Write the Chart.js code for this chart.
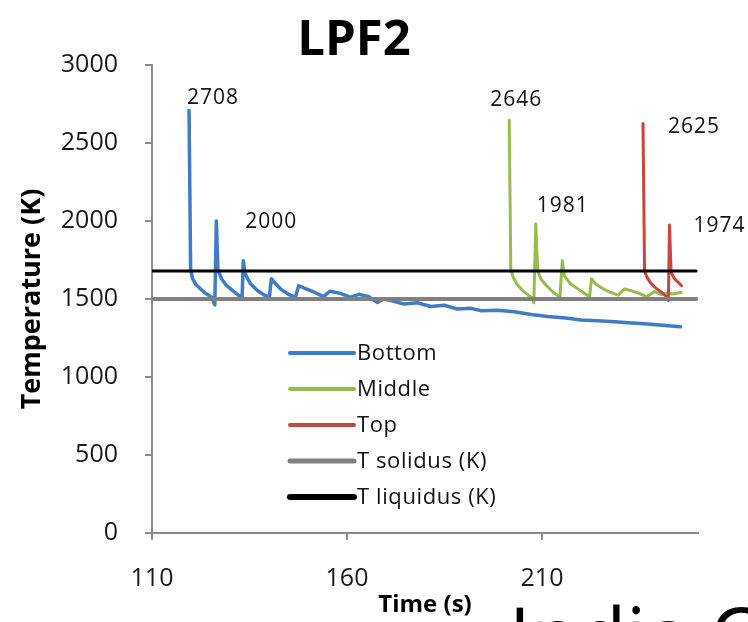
<!DOCTYPE html>
<html>
<head>
<meta charset="utf-8">
<script src="https://cdn.jsdelivr.net/npm/chart.js@4.4.1/dist/chart.umd.min.js"></script>
<style>
  html, body { margin: 0; padding: 0; background: #ffffff; }
  #wrap { width: 748px; height: 622px; }
</style>
</head>
<body>
<div id="wrap"><canvas id="c" width="748" height="622"></canvas></div>
<script>
// ---- chart text ----
const chartTitle = 'LPF2';
const xAxisTitle = 'Time (s)';
const yAxisTitle = 'Temperature (K)';
const footerText = 'India Co';

// ---- axis ticks ----
const xTicks = [110, 160, 210];
const yTicks = [0, 500, 1000, 1500, 2000, 2500, 3000];

// ---- Bottom thermocouple ----
const bottomTime = [119.5, 119.9, 120.4, 121.2, 122.4, 123.8, 125.3, 126.1, 126.5, 126.9,
  127.8, 129.0, 130.6, 132.3, 133.1, 133.4, 133.9, 135.2, 137.0, 138.8,
  140.1, 140.6, 141.6, 143.2, 145.0, 146.8, 147.6, 149.5, 151.5, 154.0,
  155.6, 158.3, 160.9, 163.0, 165.6, 167.8, 169.5, 172.0, 174.6, 178.0,
  181.5, 184.9, 188.3, 191.8, 194.5, 198.6, 202.9, 207.2, 211.5, 216.0,
  220.0, 224.0, 228.6, 233.0, 237.2, 241.5, 245.5];
const bottomTemp = [2708, 1690, 1630, 1595, 1565, 1535, 1512, 1462, 2000, 1690,
  1630, 1590, 1555, 1522, 1510, 1745, 1660, 1600, 1555, 1525,
  1510, 1630, 1600, 1560, 1530, 1512, 1585, 1565, 1545, 1515,
  1550, 1536, 1510, 1530, 1515, 1478, 1500, 1485, 1468, 1476,
  1452, 1460, 1436, 1440, 1425, 1428, 1418, 1400, 1388, 1378,
  1366, 1360, 1354, 1346, 1340, 1330, 1322];

// ---- Middle thermocouple ----
const middleTime = [201.6, 202.0, 202.6, 203.6, 205.0, 206.6, 207.6, 207.9, 208.4, 208.9,
  209.8, 211.0, 212.8, 214.6, 215.2, 215.7, 217.2, 219.2, 221.4, 222.2,
  222.7, 223.6, 225.2, 227.0, 229.5, 231.2, 233.0, 235.0, 236.8, 238.9,
  240.6, 242.3, 243.6, 245.7];
const middleTemp = [2646, 1690, 1640, 1595, 1555, 1522, 1505, 1475, 1981, 1680,
  1625, 1590, 1545, 1510, 1745, 1650, 1600, 1565, 1528, 1515,
  1630, 1600, 1572, 1548, 1525, 1565, 1552, 1535, 1515, 1548,
  1528, 1538, 1532, 1542];

// ---- Top thermocouple ----
const topTime = [235.9, 236.3, 236.9, 237.8, 239.2, 240.8, 241.9, 242.4, 242.7, 243.1,
  244.0, 245.0, 245.8];
const topTemp = [2625, 1680, 1640, 1605, 1570, 1540, 1515, 1490, 1974, 1670,
  1630, 1605, 1585];

// ---- solidus / liquidus reference lines ----
const refLineTime = [110, 249.5];
const solidusTemp = 1500;
const liquidusTemp = 1680;

// ---- annotated peak temperatures ----
const peakValues = [2708, 2000, 2646, 1981, 2625, 1974];

const FONT = '"Open Sans", "Liberation Sans", sans-serif';
const AXIS_GREY = '#8a8a8a';

const toPoints = (xs, ys) => xs.map((x, i) => ({ x: x, y: ys[i] }));
const flatLine = (xs, v) => xs.map(x => ({ x: x, y: v }));

// Title drawn over the plot, slightly left of the canvas centre
const titlePlugin = {
  id: 'plotTitle',
  afterDraw(chart) {
    const ctx = chart.ctx;
    ctx.save();
    ctx.font = 'bold 49px ' + FONT;
    ctx.fillStyle = '#000';
    ctx.textAlign = 'center';
    ctx.textBaseline = 'middle';
    ctx.fillText(chartTitle, 354, 41);
    ctx.restore();
  }
};

// Legend placed inside the plot area, under the curves
const insideLegend = {
  id: 'insideLegend',
  afterDatasetsDraw(chart) {
    const { ctx, chartArea } = chart;
    const x0 = chartArea.left + 138;
    const y0 = chartArea.top + 288;
    ctx.save();
    ctx.font = '22px ' + FONT;
    ctx.letterSpacing = '0.6px';
    ctx.textBaseline = 'middle';
    ctx.textAlign = 'left';
    chart.data.datasets.forEach((ds, i) => {
      const y = y0 + i * 36;
      ctx.strokeStyle = ds.borderColor;
      ctx.lineWidth = ds.legendLineWidth;
      ctx.lineCap = 'round';
      ctx.beginPath();
      ctx.moveTo(x0, y);
      ctx.lineTo(x0 + 64, y);
      ctx.stroke();
      ctx.fillStyle = '#111';
      ctx.fillText(ds.label, x0 + 67, y + 1);
    });
    ctx.restore();
  }
};

// Value labels next to the temperature peaks
const peakLabelOffsets = [[24, -13], [55, 1], [7, -20], [27, -18], [51, 4], [50, 1]];
const peakLabels = {
  id: 'peakLabels',
  afterDatasetsDraw(chart) {
    const { ctx } = chart;
    const xs = chart.scales.x, ys = chart.scales.y;
    ctx.save();
    ctx.font = '21px ' + FONT;
    ctx.letterSpacing = '1px';
    ctx.fillStyle = '#111';
    ctx.textAlign = 'center';
    ctx.textBaseline = 'middle';
    peakValues.forEach((v, k) => {
      for (let d = 0; d < 3; d++) {
        const p = chart.data.datasets[d].data.find(pt => pt.y === v);
        if (p) {
          const off = peakLabelOffsets[k];
          ctx.fillText(String(v), xs.getPixelForValue(p.x) + off[0], ys.getPixelForValue(p.y) + off[1]);
          break;
        }
      }
    });
    ctx.restore();
  }
};

// Slide caption running off the bottom edge
const footerPlugin = {
  id: 'footer',
  afterDraw(chart) {
    const ctx = chart.ctx;
    ctx.save();
    ctx.font = '78px ' + FONT;
    ctx.fillStyle = '#000';
    ctx.textAlign = 'left';
    ctx.textBaseline = 'alphabetic';
    ctx.fillText(footerText, 509, 664);
    ctx.restore();
  }
};

const seriesLine = (label, data, color, width, order, legendWidth) => ({
  label: label,
  data: data,
  borderColor: color,
  backgroundColor: color,
  borderWidth: width,
  legendLineWidth: legendWidth,
  showLine: true,
  pointRadius: 0,
  pointHoverRadius: 0,
  tension: 0,
  fill: false,
  order: order,
  borderJoinStyle: 'round',
  borderCapStyle: 'round'
});

new Chart(document.getElementById('c'), {
  type: 'scatter',
  data: {
    datasets: [
      seriesLine('Bottom', toPoints(bottomTime, bottomTemp), '#3f7bc6', 3.5, 5, 4),
      seriesLine('Middle', toPoints(middleTime, middleTemp), '#96bb4f', 3, 4, 4),
      seriesLine('Top', toPoints(topTime, topTemp), '#c8463f', 3, 3, 4),
      seriesLine('T solidus (K)', flatLine(refLineTime, solidusTemp), '#808080', 4, 2, 5),
      seriesLine('T liquidus (K)', flatLine(refLineTime, liquidusTemp), '#000000', 3, 1, 6)
    ]
  },
  options: {
    responsive: false,
    animation: false,
    devicePixelRatio: 1,
    layout: { padding: { left: 0, right: 50, top: 65, bottom: 0 } },
    plugins: {
      legend: { display: false },
      title: { display: false },
      tooltip: { enabled: false }
    },
    scales: {
      x: {
        type: 'linear',
        min: 110,
        max: 250,
        afterFit: s => { s.height = 89; },
        afterBuildTicks: s => { s.ticks = xTicks.map(v => ({ value: v })); },
        ticks: {
          font: { family: FONT, size: 25 },
          color: '#1a1a1a',
          padding: 24,
          maxRotation: 0,
          callback: v => String(v)
        },
        grid: {
          drawOnChartArea: false,
          drawTicks: true,
          tickLength: 7,
          color: AXIS_GREY,
          lineWidth: 2
        },
        border: { color: AXIS_GREY, width: 2 },
        title: {
          display: true,
          text: xAxisTitle,
          font: { family: FONT, size: 24, weight: 'bold' },
          color: '#000',
          padding: { top: 0, bottom: 2 }
        }
      },
      y: {
        type: 'linear',
        min: 0,
        max: 3000,
        afterFit: s => { s.width = 152; },
        afterBuildTicks: s => { s.ticks = yTicks.map(v => ({ value: v })); },
        ticks: {
          font: { family: FONT, size: 25 },
          color: '#1a1a1a',
          padding: 27,
          callback: v => String(v)
        },
        grid: {
          drawOnChartArea: false,
          drawTicks: true,
          tickLength: 7,
          color: AXIS_GREY,
          lineWidth: 2
        },
        border: { color: AXIS_GREY, width: 2 },
        title: {
          display: true,
          text: yAxisTitle,
          font: { family: FONT, size: 27, weight: 'bold' },
          color: '#000',
          padding: { top: 16, bottom: 0 }
        }
      }
    }
  },
  plugins: [titlePlugin, insideLegend, peakLabels, footerPlugin]
});
</script>
</body>
</html>
